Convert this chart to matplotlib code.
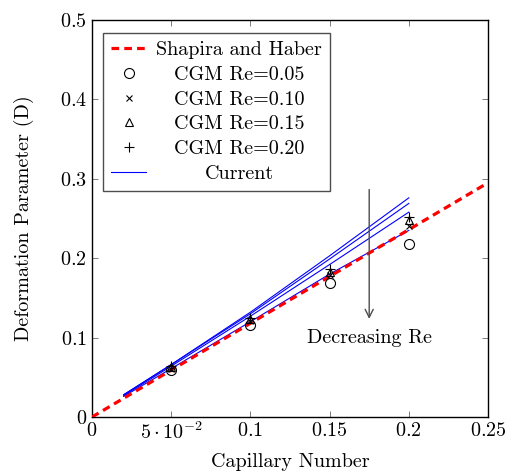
import matplotlib
matplotlib.use('Agg')
import matplotlib.pyplot as plt
import numpy as np

plt.rcParams['font.family'] = ['cmr10', 'DejaVu Serif']
plt.rcParams['mathtext.fontset'] = 'cm'
plt.rcParams['axes.formatter.use_mathtext'] = True
plt.rcParams['font.size'] = 14.5

# Shapira and Haber reference line
sh_ca = [0.0, 0.25]
sh_d = [0.0, 0.295]

# CGM results
cgm_ca = [0.05, 0.10, 0.15, 0.20]
cgm_re005 = [0.059, 0.116, 0.169, 0.218]
cgm_re010 = [0.061, 0.121, 0.179, 0.240]
cgm_re015 = [0.063, 0.123, 0.183, 0.248]
cgm_re020 = [0.064, 0.125, 0.186, 0.252]

# Current method (one line per Re)
cur_ca = [0.02, 0.05, 0.10, 0.15, 0.20]
cur_lines = [
    [0.028, 0.066, 0.132, 0.203, 0.276],
    [0.028, 0.066, 0.130, 0.199, 0.269],
    [0.027, 0.064, 0.127, 0.192, 0.258],
    [0.026, 0.061, 0.120, 0.180, 0.235],
]

xticks = [0, 0.05, 0.1, 0.15, 0.2, 0.25]
xticklabels = ['$0$', r'$5\cdot10^{-2}$', '$0.1$', '$0.15$', '$0.2$', '$0.25$']
yticks = [0, 0.1, 0.2, 0.3, 0.4, 0.5]
yticklabels = ['$0$', '$0.1$', '$0.2$', '$0.3$', '$0.4$', '$0.5$']

fig = plt.figure(figsize=(5.08, 4.71), dpi=100)
ax = fig.add_axes([92/508, 54/471, 396/508, 397/471])

ax.plot(sh_ca, sh_d, color='red', lw=2.3, dashes=(2.4, 1.6), label='Shapira and Haber', zorder=3)
ax.plot(cgm_ca, cgm_re005, 'o', ms=7.2, mfc='none', mec='black', mew=0.8, label='CGM Re=0.05', zorder=4)
ax.plot(cgm_ca, cgm_re010, 'x', ms=5, mec='black', mew=0.8, label='CGM Re=0.10', zorder=4)
ax.plot(cgm_ca, cgm_re015, '^', ms=6, mfc='none', mec='black', mew=0.8, label='CGM Re=0.15', zorder=4)
ax.plot(cgm_ca, cgm_re020, '+', ms=7, mec='black', mew=0.8, label='CGM Re=0.20', zorder=4)
for i, d in enumerate(cur_lines):
    ax.plot(cur_ca, d, color='blue', lw=0.8, label='Current' if i == 0 else None, zorder=2)

ax.annotate('', xy=(0.175, 0.12), xytext=(0.175, 0.29),
            arrowprops=dict(arrowstyle='->', color='0.3', lw=1.0))
ax.text(0.175, 0.10, 'Decreasing Re', ha='center', va='center')

ax.set_xlim(0, 0.25)
ax.set_ylim(0, 0.5)
ax.set_xticks(xticks)
ax.set_xticklabels(xticklabels)
ax.set_yticks(yticks)
ax.set_yticklabels(yticklabels)
ax.tick_params(direction='in', top=True, right=True, length=4, width=0.6, colors='0.4', labelcolor='black')
for s in ax.spines.values():
    s.set_linewidth(1.0)
ax.set_xlabel('Capillary Number', labelpad=7)
ax.set_ylabel('Deformation Parameter (D)', labelpad=19)

leg = ax.legend(loc='upper left', bbox_to_anchor=(0.028, 0.967), fancybox=False, edgecolor='0.3',
                framealpha=1, handlelength=1.75, handletextpad=0.5, borderpad=0.4, labelspacing=0.33,
                borderaxespad=0)
leg.get_frame().set_linewidth(1.0)

# centre the legend labels within the text column
fig.canvas.draw()
r = fig.canvas.get_renderer()
texts = leg.get_texts()
exts = [t.get_window_extent(r) for t in texts]
left = min(e.x0 for e in exts)
right = max(e.x1 for e in exts)
cx = (left + right) / 2
for t, e in zip(texts, exts):
    t.set_alpha(0)
    fig.text(cx / fig.dpi / fig.get_figwidth(), (e.y0 + e.y1) / 2 / fig.dpi / fig.get_figheight(),
             t.get_text(), ha='center', va='center', zorder=10)

fig.savefig('out.png', dpi=100)
